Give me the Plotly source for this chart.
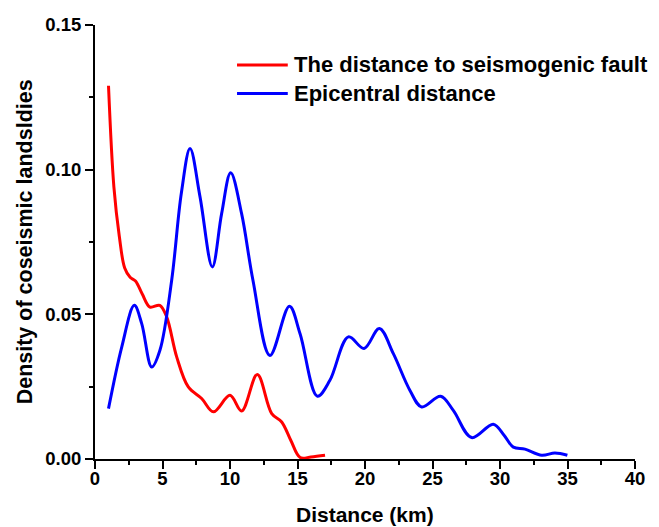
import plotly.graph_objects as go

# Kernel density of coseismic landslides vs. distance (km)
fault_x = [1.0, 1.4, 1.8, 2.2, 2.6, 3.0, 3.5, 4.07, 4.8, 5.31, 6.05, 6.91,
           7.9, 8.77, 10.0, 10.86, 12.02, 13.09, 13.83, 14.5, 15.2, 16.0, 17.04]
fault_y = [0.129, 0.094, 0.077, 0.066, 0.0628, 0.0615, 0.057, 0.0525, 0.0531,
           0.0491, 0.0353, 0.0249, 0.0209, 0.0163, 0.022, 0.0166, 0.0292, 0.0157,
           0.0128, 0.0065, 0.0005, 0.0007, 0.0013]

epi_x = [1.0, 1.98, 2.91, 3.46, 4.2, 4.81, 5.68, 6.4, 7.04, 7.78, 8.69,
         9.38, 10.05, 10.86, 11.7, 12.96, 14.4, 15.19, 16.47, 17.4, 18.77, 19.93,
         21.06, 22.1, 23.33, 24.2, 25.6, 26.54, 27.9, 29.5, 30.3, 30.99, 31.85,
         33.09, 34.07, 34.99]
epi_y = [0.0174, 0.0387, 0.0531, 0.0468, 0.0318, 0.0376, 0.0618, 0.092,
         0.1073, 0.0906, 0.0664, 0.0848, 0.0989, 0.0848, 0.0618, 0.0358, 0.0528,
         0.0433, 0.0217, 0.0272, 0.0422, 0.0382, 0.0451, 0.0364, 0.0237, 0.018,
         0.0217, 0.0168, 0.0074, 0.012, 0.0082, 0.0041, 0.0034, 0.0013, 0.0021,
         0.0013]

series = [
    ("The distance to seismogenic fault", fault_x, fault_y, "#FF0000"),
    ("Epicentral distance", epi_x, epi_y, "#0000FF"),
]

x_ticks = [0, 5, 10, 15, 20, 25, 30, 35, 40]
y_ticks = [0.00, 0.05, 0.10, 0.15]

FONT = "Liberation Sans, Arial, sans-serif"

fig = go.Figure()
for name, xs, ys, color in series:
    fig.add_trace(go.Scatter(
        x=xs, y=ys, name=name, mode="lines",
        line=dict(color=color, width=3, shape="spline", smoothing=1.0),
        showlegend=False, cliponaxis=False,
    ))

# Legend drawn in paper coordinates (long line samples)
leg_x0, leg_x1, leg_tx = 0.263, 0.357, 0.364
leg_rows = [0.908, 0.842]
for (name, _, _, color), yy in zip(series, leg_rows):
    fig.add_shape(type="line", xref="paper", yref="paper",
                  x0=leg_x0, x1=leg_x1, y0=yy, y1=yy,
                  line=dict(color=color, width=3))
    fig.add_annotation(xref="paper", yref="paper", x=leg_tx, y=yy,
                       text=name, showarrow=False, xanchor="left", yanchor="middle",
                       font=dict(family=FONT, size=22, color="black", weight="bold"))

# Axis titles placed as paper annotations so the plot area stays fixed
fig.add_annotation(xref="paper", yref="paper", x=0.5, y=-0.128,
                   text="Distance (km)", showarrow=False,
                   xanchor="center", yanchor="middle",
                   font=dict(family=FONT, size=21, color="black", weight="bold"))
fig.add_annotation(xref="paper", yref="paper", x=-0.129, y=0.5,
                   text="Density of coseismic landsldies", showarrow=False, textangle=-90,
                   xanchor="center", yanchor="middle",
                   font=dict(family=FONT, size=21.5, color="black", weight="bold"))

axis_common = dict(
    showgrid=False, zeroline=False, showline=True, linecolor="black", linewidth=2,
    ticks="outside", ticklen=8, tickwidth=2, tickcolor="black", automargin=False,
    tickfont=dict(family=FONT, size=18.5, color="black", weight="bold"),
)

fig.update_layout(
    width=659, height=527,
    margin=dict(l=95, r=24, t=25, b=68),
    paper_bgcolor="white", plot_bgcolor="white",
    xaxis=dict(range=[0, 40], tickvals=x_ticks, ticktext=[str(v) for v in x_ticks],
               ticklabelstandoff=-6,
               minor=dict(ticks="outside", ticklen=4, tickwidth=2, tickcolor="black", dtick=2.5, tick0=0),
               **axis_common),
    yaxis=dict(range=[0, 0.15], tickvals=y_ticks, ticktext=[f"{v:.2f}" for v in y_ticks],
               minor=dict(ticks="outside", ticklen=4, tickwidth=2, tickcolor="black", dtick=0.025, tick0=0),
               **axis_common),
)

fig.write_html("out.html")
